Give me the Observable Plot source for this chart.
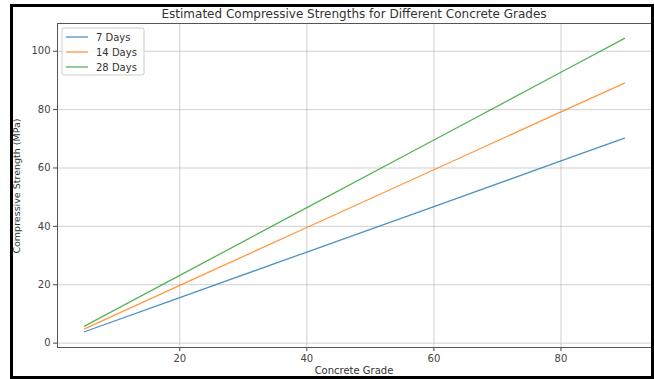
<!DOCTYPE html>
<html>
<head>
<meta charset="utf-8">
<script src="https://cdn.jsdelivr.net/npm/d3@7"></script>
<script src="https://cdn.jsdelivr.net/npm/@observablehq/plot@0.6"></script>
<style>
  html, body { margin: 0; padding: 0; background: #fff; }
  #chart svg { display: block; }
</style>
</head>
<body>
<div id="chart"></div>
<script>
// Data
const grades = [5, 20, 40, 60, 80, 90];
const days7  = [3.9, 15.6, 31.2, 46.8, 62.4, 70.2];
const days14 = [4.9, 19.8, 39.6, 59.4, 79.2, 89.1];
const days28 = [5.8, 23.2, 46.4, 69.6, 92.8, 104.4];
const seriesNames = ["7 Days", "14 Days", "28 Days"];
const seriesValues = [days7, days14, days28];
const seriesColors = ["#1f77b4", "#ff7f0e", "#2ca02c"];
const xTicks = [20, 40, 60, 80];
const yTicks = [0, 20, 40, 60, 80, 100];
const title = "Estimated Compressive Strengths for Different Concrete Grades";
const xLabel = "Concrete Grade";
const yLabel = "Compressive Strength (MPa)";

const rows = [];
seriesNames.forEach((name, i) => {
  grades.forEach((g, j) => rows.push({grade: g, value: seriesValues[i][j], series: name}));
});

const font = "DejaVu Sans, sans-serif";
const W = 654, H = 379;

const plot = Plot.plot({
  width: W,
  height: H,
  marginLeft: 57,
  marginRight: 3,
  marginTop: 23,
  marginBottom: 32,
  style: {fontFamily: font, fontSize: "10px", color: "#444", background: "#fff"},
  x: {domain: [0.75, 94.25], ticks: xTicks, tickSize: 4, tickPadding: 3, label: null},
  y: {domain: [-1.5, 109.5], ticks: yTicks, tickSize: 4, tickPadding: 3, label: null},
  color: {domain: seriesNames, range: seriesColors},
  marks: [
    Plot.gridX(xTicks, {stroke: "#b0b0b0", strokeOpacity: 0.6, strokeWidth: 1}),
    Plot.gridY(yTicks, {stroke: "#b0b0b0", strokeOpacity: 0.6, strokeWidth: 1}),
    Plot.line(rows, {x: "grade", y: "value", z: "series", stroke: "series", strokeWidth: 1.3, strokeOpacity: 0.8}),
    Plot.frame({stroke: "#555", strokeWidth: 1})
  ]
});

const svg = d3.select(plot);
// title
svg.append("text")
  .attr("x", 354).attr("y", 18)
  .attr("text-anchor", "middle")
  .attr("font-size", 12).attr("fill", "#333").attr("font-family", font)
  .text(title);
// x label
svg.append("text")
  .attr("x", 354).attr("y", 374)
  .attr("text-anchor", "middle")
  .attr("font-size", 10).attr("fill", "#333").attr("font-family", font)
  .text(xLabel);
// y label
svg.append("text")
  .attr("transform", "translate(20,186) rotate(-90)")
  .attr("text-anchor", "middle")
  .attr("font-size", 9.5).attr("fill", "#333").attr("font-family", font)
  .text(yLabel);

// legend
const color = plot.scale("color");
const lg = svg.append("g").attr("transform", "translate(62,28)");
lg.append("rect").attr("width", 82).attr("height", 47).attr("rx", 2)
  .attr("fill", "#fff").attr("fill-opacity", 0.8).attr("stroke", "#ccc");
seriesNames.forEach((name, i) => {
  const yy = 9 + i * 15;
  lg.append("line").attr("x1", 4).attr("x2", 26).attr("y1", yy).attr("y2", yy)
    .attr("stroke", color.apply(name)).attr("stroke-width", 1.3).attr("stroke-opacity", 0.8);
  lg.append("text").attr("x", 34).attr("y", yy).attr("dy", "0.35em")
    .attr("text-anchor", "start")
    .attr("font-size", 10).attr("fill", "#333").attr("font-family", font).text(name);
});

// outer black border
svg.append("rect").attr("x", 11.5).attr("y", 5.5).attr("width", 641).attr("height", 372)
  .attr("fill", "none").attr("stroke", "#000").attr("stroke-width", 3);

document.getElementById("chart").appendChild(plot);
</script>
</body>
</html>
